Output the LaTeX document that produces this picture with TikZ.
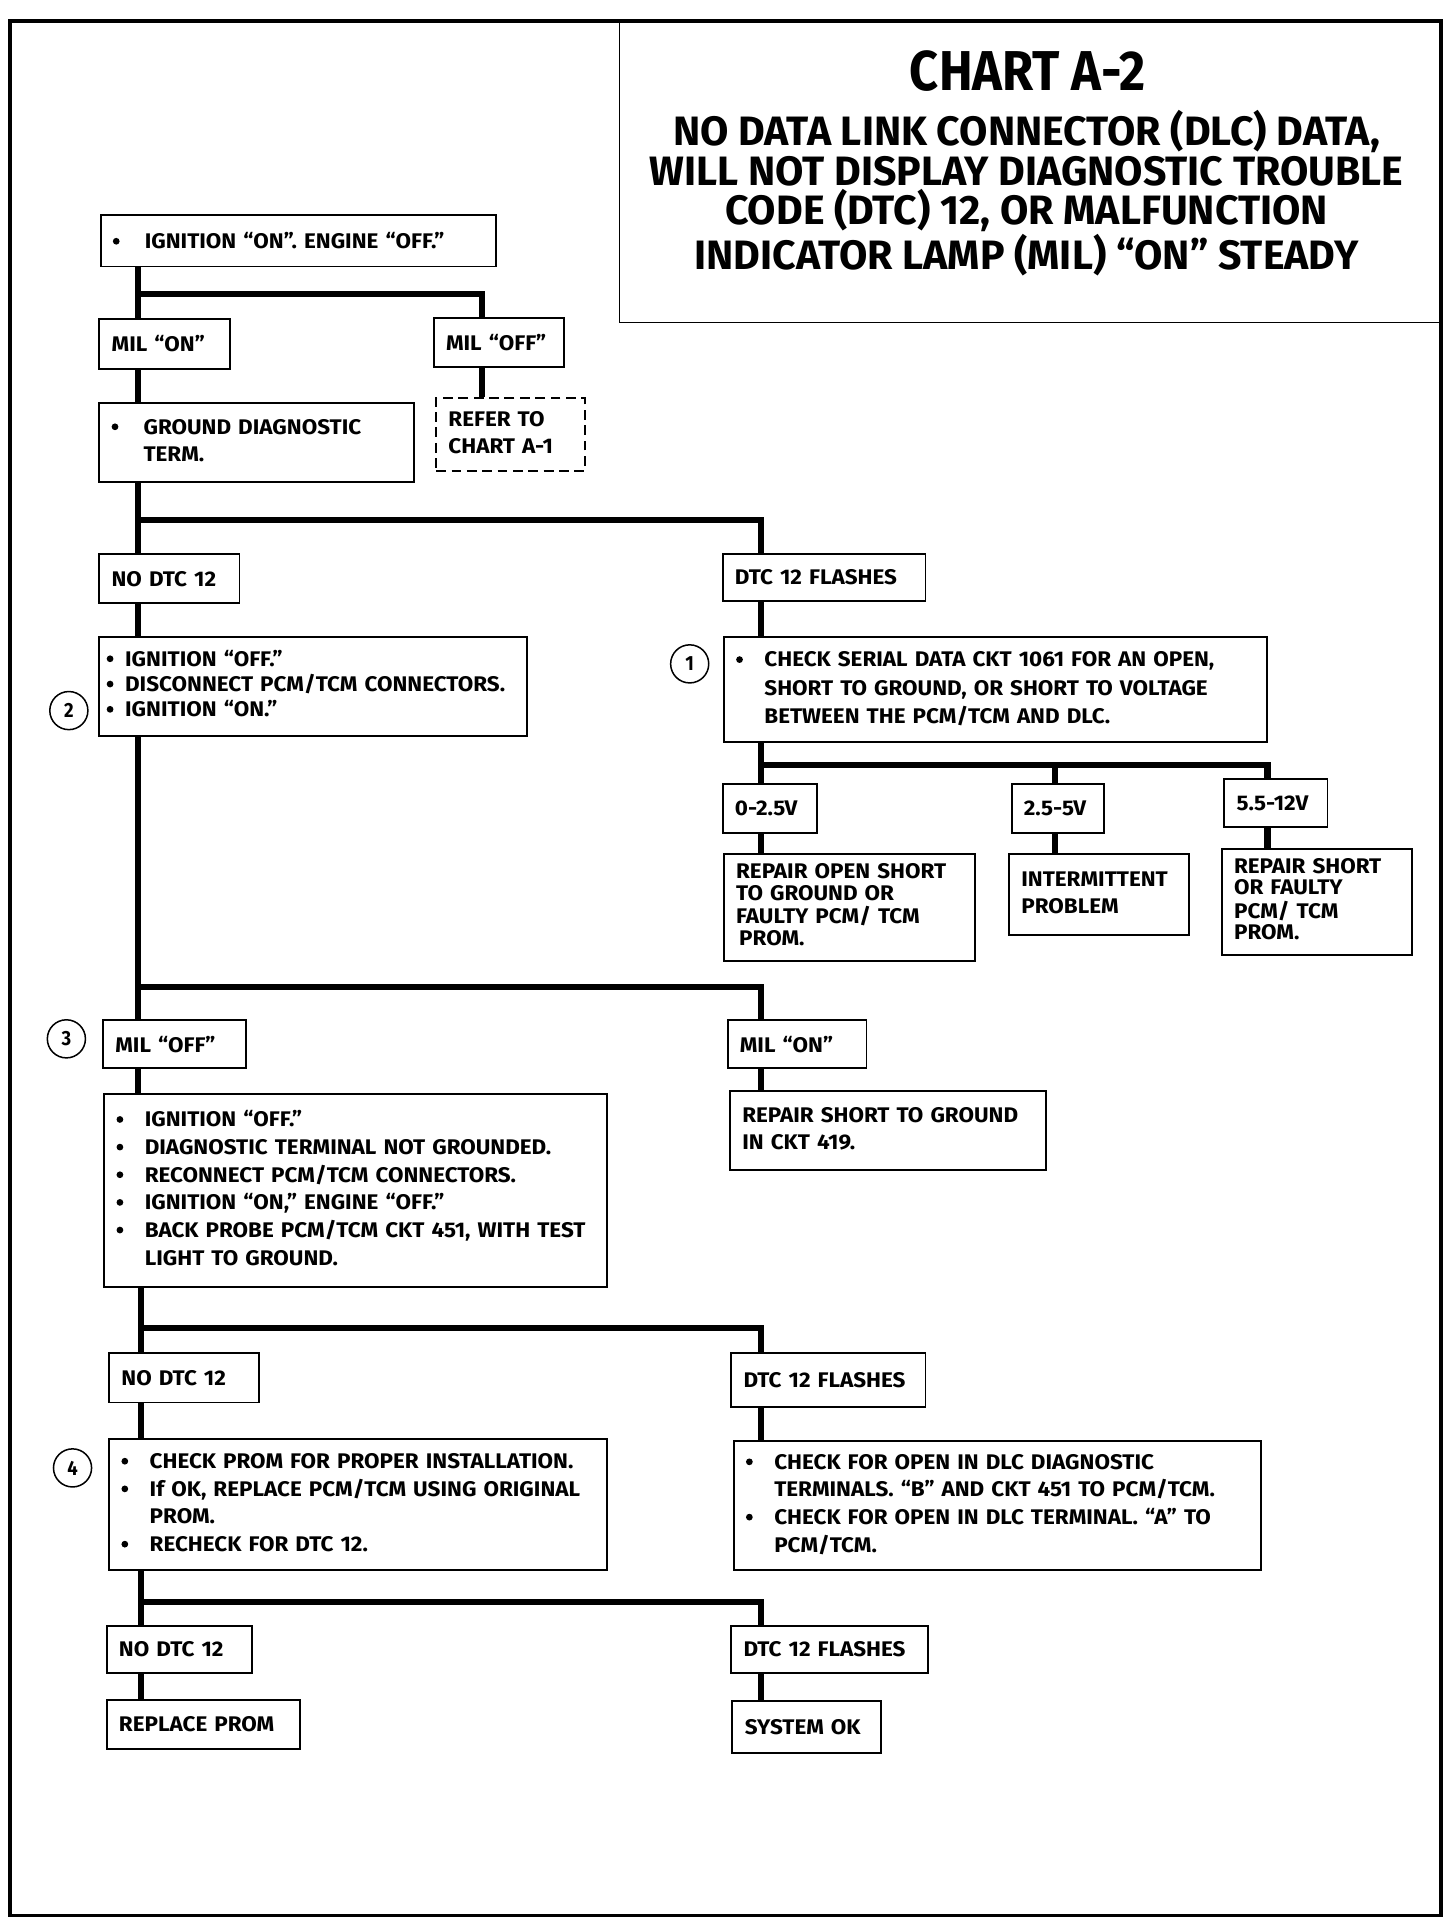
\documentclass[tikz,border=0pt]{standalone}
\usepackage{fontspec}
\newfontfamily\chartfont{Fira Sans}[FakeStretch=0.9]
\newfontfamily\headfont{Fira Sans}
\newfontfamily\bodyfont{Fira Sans}[FakeStretch=1.06]
\usetikzlibrary{positioning}

\newcommand{\itm}[1][0.46cm]{\makebox[#1][l]{\tikz[baseline=0pt]\fill (0.06cm,0.12cm) circle (0.055cm);}}
\newcommand{\lines}[1]{\begin{tabular}{@{}l@{}}#1\end{tabular}}
\newcommand{\boxfont}{\bodyfont\bfseries\fontsize{9.8}{12.6}\selectfont}

\tikzset{
  wh/.style 2 args={text width=#1*0.02cm-0.4cm, minimum height=#2*0.02cm},
  box/.style={draw, line width=0.9pt, anchor=north west, align=left,
    inner xsep=0.2cm, inner ysep=0pt, font=\boxfont},
  dbox/.style={box, dash pattern=on 0.16cm off 0.09cm},
  link/.style={line width=2.8pt},
  num/.style={circle, draw, line width=0.7pt, minimum size=0.62cm,
    inner sep=0pt, font=\chartfont\bfseries\fontsize{9.5}{10}\selectfont},
}

\begin{document}
\begin{tikzpicture}[x=0.02cm, y=-0.02cm]
    \useasboundingbox (0,0) rectangle (1184,1565);

    % frame and title block
    \draw[line width=1.7pt] (8,17) rectangle (1172,1558);
    \draw[line width=0.5pt] (504,17) |- (1172,262);
    \node[font=\chartfont\bfseries\fontsize{26}{30}\selectfont] (title) at (836,58) {CHART A-2};
    \node[align=center, font=\headfont\bfseries\fontsize{19}{18.2}\selectfont] (subtitle) at (835,157)
      {NO DATA LINK CONNECTOR (DLC) DATA,\\ WILL NOT DISPLAY DIAGNOSTIC TROUBLE\\
       CODE (DTC) 12, OR MALFUNCTION\\ INDICATOR LAMP (MIL) “ON” STEADY};

    % boxes
    \node[box, wh={322}{42}] (ign) at (81,174) {\itm[0.52cm]IGNITION “ON”. ENGINE “OFF.”};
    \node[box, wh={106}{40}] (milon) at (80,259) {MIL “ON”};
    \node[box, wh={106}{40}] (miloff) at (352,258) {MIL “OFF”};
    \node[box, wh={256}{64}] (ground) at (80,327)
      {\lines{\itm[0.52cm]GROUND DIAGNOSTIC\\ \hspace*{0.52cm}TERM.}};
    \node[dbox, wh={121}{59}] (refer) at (354,323) {\lines{REFER TO\\ CHART A-1}};

    \node[box, wh={114}{40}] (nodtca) at (80,450) {NO DTC 12};
    \node[box, wh={165}{38}] (flasha) at (587,450) {DTC 12 FLASHES};
    \node[box, wh={356}{81}, inner xsep=0.12cm,
      font=\boxfont\fontsize{9.8}{11.7}\selectfont] (stepb) at (80,517)
      {\lines{\itm[0.3cm]IGNITION “OFF.”\\ \itm[0.3cm]DISCONNECT PCM/TCM CONNECTORS.\\
       \itm[0.3cm]IGNITION “ON.”}};
    \node[box, wh={442}{86}, font=\boxfont\fontsize{9.8}{13}\selectfont] (serial) at (588,517)
      {\lines{\itm CHECK SERIAL DATA CKT 1061 FOR AN OPEN,\\ \hspace*{0.46cm}SHORT TO GROUND, OR SHORT TO VOLTAGE\\
       \hspace*{0.46cm}BETWEEN THE PCM/TCM AND DLC.}};

    \node[box, wh={77}{40}] (va) at (587,637) {0-2.5V};
    \node[box, wh={75}{40}] (vb) at (822,637) {2.5-5V};
    \node[box, wh={84}{39}] (vc) at (995,633) {5.5-12V};
    \node[box, wh={204}{87}, font=\boxfont\fontsize{9.8}{10}\selectfont] (fixa) at (588,694)
      {\lines{REPAIR OPEN SHORT\\ TO GROUND OR\\ FAULTY PCM/ TCM\\ \hspace*{0.05cm}PROM.}};
    \node[box, wh={146}{66}] (fixb) at (820,694) {\lines{INTERMITTENT\\ PROBLEM}};
    \node[box, wh={155}{86}, font=\boxfont\fontsize{9.8}{9.6}\selectfont] (fixc) at (993,690)
      {\lines{REPAIR SHORT\\ OR FAULTY\\ PCM/ TCM\\ PROM.}};

    \node[box, wh={116}{39}] (miloffb) at (83,829) {MIL “OFF”};
    \node[box, wh={113}{39}] (milonb) at (591,829) {MIL “ON”};
    \node[box, wh={409}{157}, font=\boxfont\fontsize{9.8}{12.8}\selectfont] (probe) at (84,889)
      {\lines{\itm IGNITION “OFF.”\\ \itm DIAGNOSTIC TERMINAL NOT GROUNDED.\\ \itm RECONNECT PCM/TCM CONNECTORS.\\
       \itm IGNITION “ON,” ENGINE “OFF.”\\ \itm BACK PROBE PCM/TCM CKT 451, WITH TEST\\
       \hspace*{0.46cm}LIGHT TO GROUND.}};
    \node[box, wh={257}{64}] (shortgnd) at (593,887) {\lines{REPAIR SHORT TO GROUND\\ IN CKT 419.}};

    \node[box, wh={122}{40}] (nodtcb) at (88,1100) {NO DTC 12};
    \node[box, wh={158}{44}] (flashb) at (594,1100) {DTC 12 FLASHES};
    \node[box, wh={405}{106}, font=\boxfont\fontsize{9.8}{12.8}\selectfont] (prom) at (88,1170)
      {\lines{\itm CHECK PROM FOR PROPER INSTALLATION.\\ \itm If OK, REPLACE PCM/TCM USING ORIGINAL\\
       \hspace*{0.46cm}PROM.\\ \itm RECHECK FOR DTC 12.}};
    \node[box, wh={429}{105}, font=\boxfont\fontsize{9.8}{12.8}\selectfont] (opendlc) at (596,1171)
      {\lines{\itm CHECK FOR OPEN IN DLC DIAGNOSTIC\\ \hspace*{0.46cm}TERMINALS. “B” AND CKT 451 TO PCM/TCM.\\
       \itm CHECK FOR OPEN IN DLC TERMINAL. “A” TO\\ \hspace*{0.46cm}PCM/TCM.}};

    \node[box, wh={118}{38}] (nodtcc) at (86,1322) {NO DTC 12};
    \node[box, wh={160}{38}] (flashc) at (594,1322) {DTC 12 FLASHES};
    \node[box, wh={157}{40}] (replprom) at (86,1382) {REPLACE PROM};
    \node[box, wh={121}{42}] (sysok) at (595,1383) {SYSTEM OK};

    % step numbers
    \node[num] (c1) at (561,540) {1};
    \node[num] (c2) at (56,578) {2};
    \node[num] (c3) at (54,845) {3};
    \node[num] (c4) at (59,1194) {4};

    % trunk lines
    \coordinate (L) at (112,0);
    \coordinate (L2) at (115,0);
    \coordinate (M) at (392,0);
    \coordinate (R) at (619,0);
    \coordinate (V2) at (858,0);
    \coordinate (V3) at (1031,0);
    \coordinate (sp1) at (112,239);
    \coordinate (sp2) at (112,423);
    \coordinate (sp3) at (619,622);
    \coordinate (sp4) at (112,803);
    \coordinate (sp5) at (115,1080);
    \coordinate (sp6) at (115,1303);

    \draw[link] (ign.south -| L) -- (milon.north -| L);
    \draw[link] (sp1) -| (miloff.north -| M);
    \draw[link] (miloff.south -| M) -- (refer.north -| M);
    \draw[link] (milon.south -| L) -- (ground.north -| L);
    \draw[link] (ground.south -| L) -- (nodtca.north -| L);
    \draw[link] (sp2) -| (flasha.north -| R);
    \draw[link] (nodtca.south -| L) -- (stepb.north -| L);
    \draw[link] (flasha.south -| R) -- (serial.north -| R);

    \draw[link] (serial.south -| R) -- (va.north -| R);
    \draw[link] (sp3) -| (vb.north -| V2);
    \draw[link] (sp3) -| (vc.north -| V3);
    \draw[link] (va.south -| R) -- (fixa.north -| R);
    \draw[link] (vb.south -| V2) -- (fixb.north -| V2);
    \draw[link] (vc.south -| V3) -- (fixc.north -| V3);

    \draw[link] (stepb.south -| L) -- (miloffb.north -| L);
    \draw[link] (sp4) -| (milonb.north -| R);
    \draw[link] (miloffb.south -| L) -- (probe.north -| L);
    \draw[link] (milonb.south -| R) -- (shortgnd.north -| R);

    \draw[link] (probe.south -| L2) -- (nodtcb.north -| L2);
    \draw[link] (sp5) -| (flashb.north -| R);
    \draw[link] (nodtcb.south -| L2) -- (prom.north -| L2);
    \draw[link] (flashb.south -| R) -- (opendlc.north -| R);

    \draw[link] (prom.south -| L2) -- (nodtcc.north -| L2);
    \draw[link] (sp6) -| (flashc.north -| R);
    \draw[link] (nodtcc.south -| L2) -- (replprom.north -| L2);
    \draw[link] (flashc.south -| R) -- (sysok.north -| R);
\end{tikzpicture}
\end{document}
